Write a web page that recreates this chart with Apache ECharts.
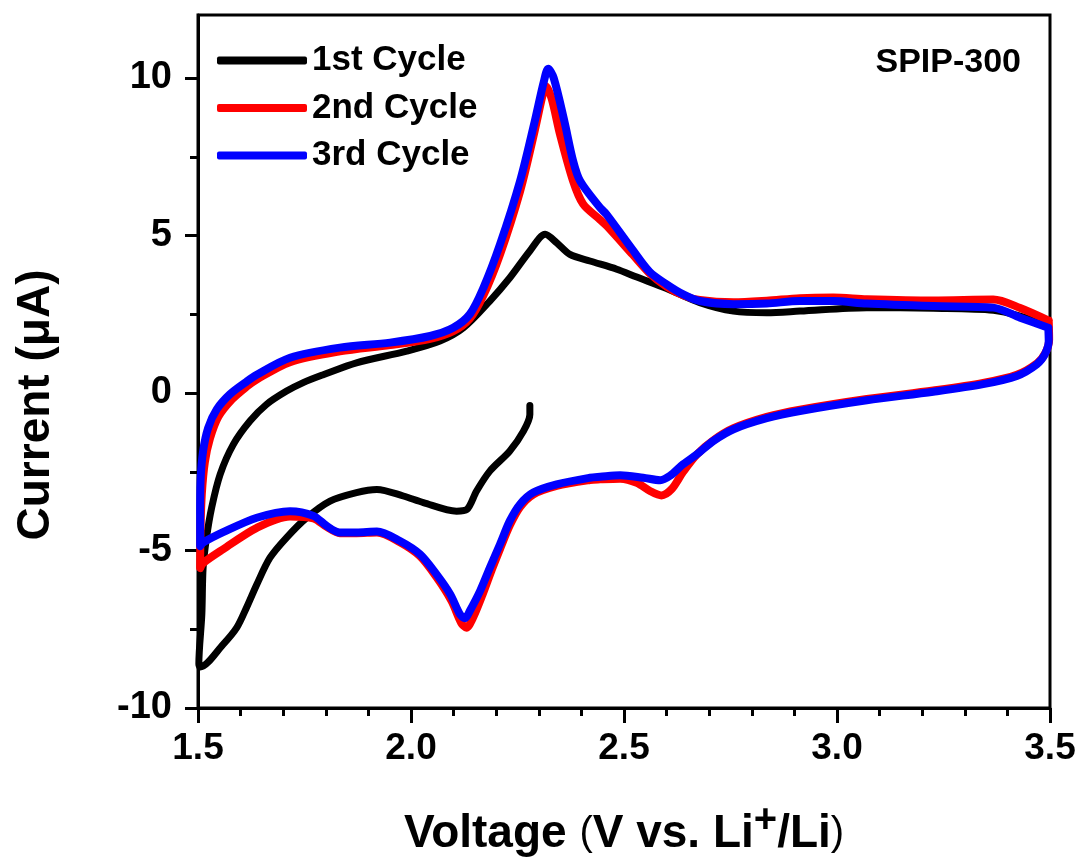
<!DOCTYPE html>
<html>
<head>
<meta charset="utf-8">
<title>SPIP-300 CV</title>
<script src="https://cdn.jsdelivr.net/npm/echarts@6/dist/echarts.min.js"></script>
<style>
  html, body { margin: 0; padding: 0; background: #fff; }
  #chart { width: 1086px; height: 867px; }
</style>
</head>
<body>
<div id="chart"></div>
<script>
// cycle 1 (black): starts at OCV, cathodic to 1.5 V then anodic to 3.5 V
var cycle1V = [2.279, 2.279, 2.264, 2.232, 2.185, 2.154, 2.131, 2.107, 2.029, 1.982, 1.92, 1.872, 1.81, 1.755, 1.708, 1.669, 1.638, 1.614, 1.591, 1.559, 1.505,
  1.502, 1.509, 1.512, 1.52, 1.532, 1.552, 1.583, 1.622, 1.661, 1.708, 1.747, 1.794, 1.872, 1.99, 2.068, 2.123, 2.185, 2.232, 2.279, 2.315, 2.342, 2.373, 2.42, 2.483, 2.53, 2.60, 2.678, 2.757, 2.835, 2.913, 3.07, 3.226, 3.367, 3.43, 3.496];
var cycle1I = [-0.40, -0.68, -1.21, -1.84, -2.48, -3.11, -3.70, -3.75, -3.48, -3.27, -3.06, -3.16, -3.43, -3.96, -4.59, -5.23, -6.08, -6.81, -7.45, -7.98, -8.7,
  -8.6, -7.03, -5.55, -4.59, -3.64, -2.58, -1.63, -0.89, -0.36, 0.06, 0.33, 0.58, 0.96, 1.33, 1.65, 2.07, 2.92, 3.66, 4.51, 5.04, 4.77, 4.40, 4.19, 3.93, 3.68, 3.32, 2.87, 2.60, 2.55, 2.60, 2.71, 2.69, 2.63, 2.44, 2.13];

// cycle 2 (red): cathodic from 3.5 V, then anodic back
var cycle2V = [3.497, 3.498, 3.489, 3.47, 3.422, 3.343, 3.226, 3.07, 2.913, 2.835, 2.757, 2.71, 2.671, 2.639, 2.612, 2.588, 2.561, 2.530, 2.491, 2.444, 2.42, 2.342, 2.287, 2.256, 2.232, 2.209, 2.19, 2.168, 2.145, 2.13, 2.118, 2.095, 2.06, 2.021, 1.974, 1.92, 1.872, 1.833, 1.802, 1.771, 1.716, 1.638, 1.559, 1.512, 1.505,
  1.506, 1.509, 1.516, 1.528, 1.548, 1.58, 1.614, 1.638, 1.716, 1.833, 1.951, 2.045, 2.099, 2.138, 2.17, 2.209, 2.256, 2.29, 2.308, 2.316, 2.33, 2.35, 2.38, 2.404, 2.444, 2.46, 2.52, 2.56, 2.60, 2.639, 2.678, 2.757, 2.835, 2.913, 2.991, 3.07, 3.226, 3.367, 3.43, 3.497];
var cycle2I = [2.30, 1.70, 1.27, 0.95, 0.58, 0.32, 0.08, -0.19, -0.53, -0.76, -1.12, -1.50, -1.95, -2.50, -3.05, -3.25, -3.11, -2.85, -2.72, -2.74, -2.76, -2.95, -3.22, -3.62, -4.2, -4.95, -5.6, -6.4, -7.15, -7.45, -7.3, -6.6, -5.85, -5.18, -4.74, -4.43, -4.45, -4.45, -4.25, -3.98, -3.92, -4.28, -4.96, -5.4, -5.56,
  -4.3, -3.2, -2.2, -1.45, -0.75, -0.2, 0.2, 0.43, 0.98, 1.32, 1.52, 1.72, 1.96, 2.36, 3.1, 4.4, 6.4, 8.3, 9.4, 9.75, 9.35, 8.2, 6.75, 6.0, 5.5, 5.3, 4.4, 3.8, 3.38, 3.1, 2.95, 2.88, 2.93, 3.01, 3.03, 2.98, 2.94, 2.97, 2.7, 2.30];

// cycle 3 (blue)
var cycle3V = [3.496, 3.497, 3.488, 3.469, 3.422, 3.343, 3.226, 3.07, 2.913, 2.835, 2.757, 2.71, 2.671, 2.639, 2.608, 2.585, 2.545, 2.491, 2.444, 2.42, 2.342, 2.287, 2.256, 2.232, 2.209, 2.185, 2.162, 2.138, 2.127, 2.115, 2.092, 2.06, 2.021, 1.974, 1.92, 1.872, 1.833, 1.802, 1.771, 1.716, 1.638, 1.559, 1.512, 1.505,
  1.505, 1.506, 1.512, 1.524, 1.544, 1.575, 1.614, 1.638, 1.716, 1.833, 1.951, 2.045, 2.099, 2.138, 2.17, 2.209, 2.256, 2.29, 2.312, 2.322, 2.335, 2.36, 2.38, 2.397, 2.444, 2.459, 2.52, 2.56, 2.60, 2.639, 2.678, 2.757, 2.835, 2.913, 2.991, 3.07, 3.226, 3.367, 3.43, 3.496];
var cycle3I = [2.07, 1.65, 1.23, 0.91, 0.54, 0.28, 0.04, -0.23, -0.57, -0.80, -1.15, -1.52, -1.95, -2.26, -2.63, -2.77, -2.69, -2.61, -2.66, -2.69, -2.90, -3.16, -3.53, -4.06, -4.80, -5.55, -6.29, -6.92, -7.15, -7.03, -6.39, -5.76, -5.12, -4.70, -4.40, -4.43, -4.43, -4.22, -3.90, -3.75, -3.96, -4.42, -4.75, -4.86,
  -3.85, -2.79, -1.84, -1.10, -0.52, -0.04, 0.36, 0.58, 1.12, 1.44, 1.60, 1.81, 2.07, 2.50, 3.34, 4.72, 6.73, 8.6, 9.9, 10.29, 10.0, 8.63, 7.4, 6.73, 5.88, 5.67, 4.55, 3.85, 3.45, 3.13, 2.92, 2.82, 2.84, 2.92, 2.92, 2.84, 2.76, 2.71, 2.39, 2.07];

var seriesNames = ["1st Cycle", "2nd Cycle", "3rd Cycle"];
var seriesColors = ["#000000", "#ff0000", "#0000ff"];
var yTicks = [-10, -5, 0, 5, 10];
var yMinorTicks = [-7.5, -2.5, 2.5, 7.5];

function zip(xs, ys) {
  return xs.map(function (x, i) { return [x, ys[i]]; });
}

var chart = echarts.init(document.getElementById("chart"));
var font = "Liberation Sans, Arial, sans-serif";

var allData = [zip(cycle1V, cycle1I), zip(cycle2V, cycle2I), zip(cycle3V, cycle3I)];

var option = {
  animation: false,
  backgroundColor: "#fff",
  textStyle: { fontFamily: font },
  grid: {
    left: 198, right: 36, top: 15, bottom: 159,
    outerBoundsMode: "none", containLabel: false,
    show: true, borderColor: "#000", borderWidth: 3, backgroundColor: "transparent"
  },
  title: {
    text: "SPIP-300", right: 60, top: 41,
    textStyle: { fontFamily: font, fontSize: 34, fontWeight: "bold", color: "#000" }
  },
  legend: {
    orient: "vertical", left: 212, top: 37,
    itemWidth: 90, itemHeight: 8, itemGap: 10.5,
    icon: "roundRect",
    textStyle: { fontFamily: font, fontSize: 35, fontWeight: "bold", color: "#000", lineHeight: 37 },
    data: seriesNames
  },
  xAxis: {
    type: "value", min: 1.5, max: 3.5, interval: 0.5,
    axisLine: { onZero: false, lineStyle: { color: "#000", width: 3 } },
    axisTick: { inside: false, length: 15, lineStyle: { color: "#000", width: 3 } },
    minorTick: { show: true, splitNumber: 5, length: 8, lineStyle: { color: "#000", width: 3 } },
    splitLine: { show: false },
    axisLabel: {
      margin: 22, color: "#000", fontSize: 37, fontWeight: "bold", fontFamily: font,
      formatter: function (v) { return v.toFixed(1); }
    },
    name: "{t|Voltage }{p|(}{t|V vs. Li}{s|+}{t|/Li}{p|)}",
    nameLocation: "middle", nameGap: 93,
    nameTextStyle: {
      rich: {
        t: { fontFamily: font, fontSize: 46, fontWeight: "bold", color: "#000" },
        p: { fontFamily: font, fontSize: 40, color: "#000" },
        s: { fontFamily: font, fontSize: 40, fontWeight: "bold", color: "#000", padding: [0, 0, 26, 0] }
      }
    }
  },
  yAxis: [
    {
      type: "value", min: -10, max: 12,
      axisLine: { onZero: false, lineStyle: { color: "#000", width: 3 } },
      axisTick: { inside: false, length: 13, customValues: yTicks, lineStyle: { color: "#000", width: 3 } },
      splitLine: { show: false },
      axisLabel: {
        margin: 26, color: "#000", fontSize: 38, fontWeight: "bold", fontFamily: font,
        customValues: yTicks
      }
    },
    {
      type: "value", min: -10, max: 12, position: "left",
      axisLine: { show: false, onZero: false },
      axisTick: { inside: false, length: 8, customValues: yMinorTicks, lineStyle: { color: "#000", width: 3 } },
      axisLabel: { show: false },
      splitLine: { show: false }
    }
  ],
  graphic: [{
    type: "text", x: 36, y: 405, rotation: Math.PI / 2,
    style: {
      text: "Current (μA)", font: "bold 46px " + font, fill: "#000",
      textAlign: "center", textVerticalAlign: "middle"
    }
  }],
  series: allData.map(function (d, i) {
    return {
      name: seriesNames[i], type: "line", data: d,
      yAxisIndex: 0, showSymbol: false, symbol: "none",
      smooth: 0.3,
      color: seriesColors[i],
      lineStyle: { color: seriesColors[i], width: i === 0 ? 7 : 8, cap: "round", join: "round" },
      z: 2 + i
    };
  })
};

chart.setOption(option);
</script>
</body>
</html>
